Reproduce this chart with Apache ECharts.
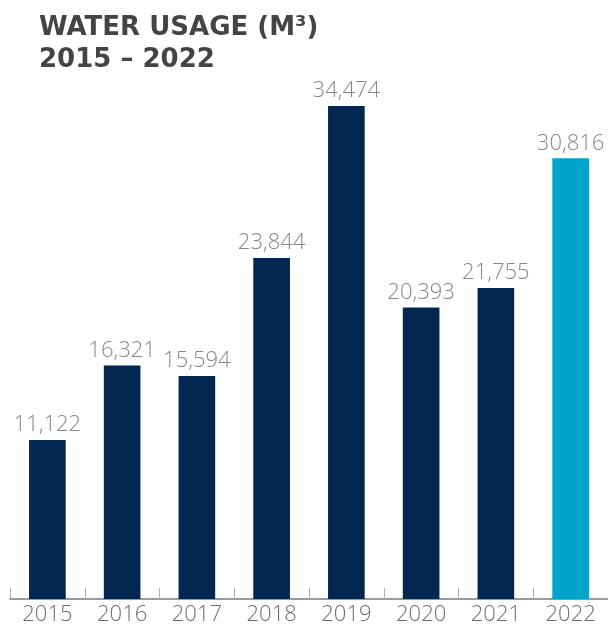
<!DOCTYPE html>
<html>
<head>
<meta charset="utf-8">
<script src="https://cdn.jsdelivr.net/npm/echarts@6/dist/echarts.min.js"></script>
<style>
  html, body { margin: 0; padding: 0; background: #ffffff; }
  #chart { width: 608px; height: 628px; }
</style>
</head>
<body>
<div id="chart"></div>
<script>
// Annual water usage in cubic metres
const years = ['2015', '2016', '2017', '2018', '2019', '2020', '2021', '2022'];
const usage = [11122, 16321, 15594, 23844, 34474, 20393, 21755, 30816];
const highlightYear = '2022';

const NAVY = '#01264f';
const CYAN = '#00a4cb';
const LABEL_FONT = '"Open Sans", Lato, sans-serif';

const chart = echarts.init(document.getElementById('chart'));

chart.setOption({
  backgroundColor: '#ffffff',
  animation: false,
  title: {
    text: 'WATER USAGE (M³)\n2015 – 2022',
    left: 34,
    top: 7,
    textStyle: {
      fontFamily: '"DejaVu Sans", sans-serif',
      fontWeight: 'bold',
      fontSize: 26,
      lineHeight: 32,
      color: '#444444'
    }
  },
  grid: {
    left: 10,
    right: -2,
    top: 27,
    bottom: 29,
    containLabel: false
  },
  xAxis: {
    type: 'category',
    data: years,
    axisLine: { show: true, lineStyle: { color: '#9a9a9a', width: 2 } },
    axisTick: {
      show: true,
      inside: true,
      length: 11,
      alignWithLabel: false,
      lineStyle: { color: '#b0b0b0', width: 1 }
    },
    axisLabel: {
      color: '#6e6e6e',
      fontFamily: LABEL_FONT,
      fontWeight: 300,
      fontSize: 22,
      margin: 5
    }
  },
  yAxis: {
    type: 'value',
    min: 0,
    max: 40000,
    show: false,
    splitLine: { show: false }
  },
  series: [{
    type: 'bar',
    barWidth: '49%',
    data: usage.map((v, i) => ({
      value: v,
      itemStyle: { color: years[i] === highlightYear ? CYAN : NAVY }
    })),
    label: {
      show: true,
      position: 'top',
      distance: 4,
      color: '#878787',
      fontFamily: LABEL_FONT,
      fontWeight: 300,
      fontSize: 22,
      formatter: p => p.value.toLocaleString('en-US')
    }
  }]
});
</script>
</body>
</html>
